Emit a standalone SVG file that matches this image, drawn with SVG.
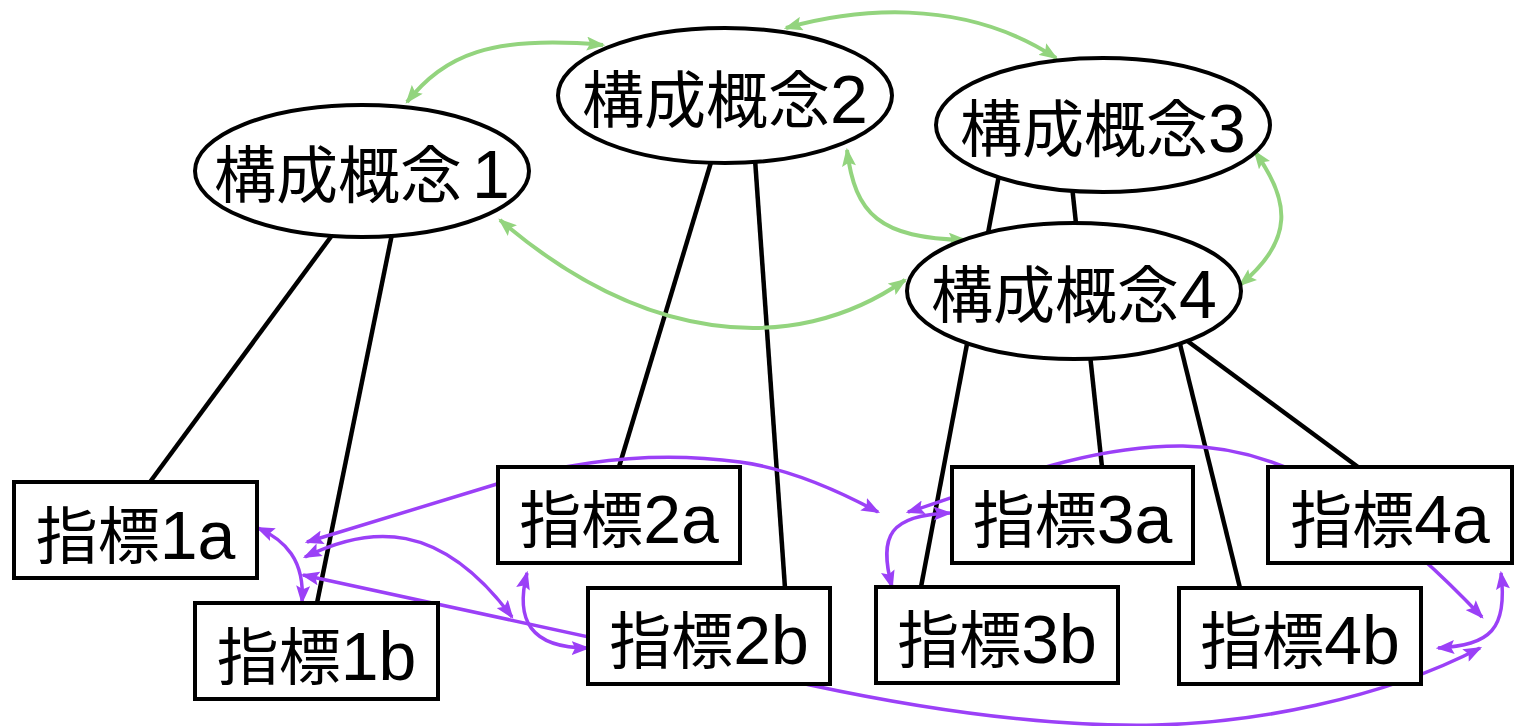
<svg xmlns="http://www.w3.org/2000/svg" width="1516" height="726" viewBox="0 0 1516 726">
<style>
.bg{fill:#ffffff}
.node{fill:#ffffff;stroke:#000000;stroke-width:4}
.ln{stroke:#000000;stroke-width:4.5;fill:none}
.pu{stroke:#9b40f7;stroke-width:3.5;fill:none;marker-start:url(#ap);marker-end:url(#ap)}
.gr{stroke:#93d47e;stroke-width:4;fill:none;marker-start:url(#ag);marker-end:url(#ag)}
.lbl{font-family:"Liberation Sans","Noto Sans CJK JP",sans-serif;font-size:68px;fill:#000000;text-anchor:middle}
.cj{font-family:"Noto Sans CJK JP",sans-serif;font-size:62px}
</style>
<defs>
<marker id="ap" viewBox="0 0 16 12" refX="14" refY="6" markerWidth="19" markerHeight="14" markerUnits="userSpaceOnUse" orient="auto-start-reverse">
<path d="M0,0 L16,6 L0,12 L3,6 z" fill="#9b40f7"/>
</marker>
<marker id="ag" viewBox="0 0 16 12" refX="14" refY="6" markerWidth="19" markerHeight="14" markerUnits="userSpaceOnUse" orient="auto-start-reverse">
<path d="M0,0 L16,6 L0,12 L3,6 z" fill="#93d47e"/>
</marker>
</defs>
<rect class="bg" x="0" y="0" width="1516" height="726"/>
<g id="connectors">
<path class="ln" d="M333,234 L150,482"/>
<path class="ln" d="M392,234 L317,603"/>
<path class="ln" d="M712,159 L619,467"/>
<path class="ln" d="M755,159 L785,588"/>
<path class="ln" d="M999,175 L921,587"/>
<path class="ln" d="M1072,186 L1102,467"/>
<path class="ln" d="M1179,340 L1240,588"/>
<path class="ln" d="M1186,340 L1358,467"/>
<path class="pu" d="M307,542 L497,484 Q620,446 740,462 Q800,470 878,512"/>
<path class="pu" d="M908,512 C980,490 1080,445 1183,446 C1290,447 1380,510 1482,617"/>
<path class="pu" d="M950,513 C890,515 878,535 892,587"/>
<path class="pu" d="M1501,573 C1508,630 1490,645 1438,648"/>
<path class="pu" d="M303,575 L810,685 C950,715 1060,727 1156,725 C1250,723 1380,700 1480,648"/>
<path class="pu" d="M258,528 C285,540 305,560 302,602"/>
<path class="pu" d="M305,557 C370,525 440,520 512,617"/>
<path class="pu" d="M527,573 C515,620 530,648 588,648"/>
<path class="gr" d="M407,102 C445,55 490,35 603,45"/>
<path class="gr" d="M786,28 C850,10 960,-5 1056,58"/>
<path class="gr" d="M847,150 C855,215 880,238 965,240"/>
<path class="gr" d="M500,220 C640,340 790,360 905,280"/>
<path class="gr" d="M1255,152 C1290,200 1295,240 1240,285"/>
</g>
<g id="c1">
<ellipse class="node" cx="362" cy="171" rx="167" ry="66"/>
<text class="lbl" x="362" y="198"><tspan class="cj">構成概念</tspan><tspan dx="10">1</tspan></text>
</g>
<g id="c2">
<ellipse class="node" cx="725" cy="95.5" rx="167" ry="67.5"/>
<text class="lbl" x="725" y="123"><tspan class="cj">構成概念</tspan>2</text>
</g>
<g id="c3">
<ellipse class="node" cx="1103" cy="125" rx="167" ry="67"/>
<text class="lbl" x="1103" y="152"><tspan class="cj">構成概念</tspan>3</text>
</g>
<g id="c4">
<ellipse class="node" cx="1074" cy="291" rx="167" ry="68"/>
<text class="lbl" x="1074" y="318"><tspan class="cj">構成概念</tspan>4</text>
</g>
<g id="i1a">
<rect class="node" x="14" y="482" width="243" height="96"/>
<text class="lbl" x="135.5" y="559"><tspan class="cj">指標</tspan>1a</text>
</g>
<g id="i1b">
<rect class="node" x="195" y="603" width="243" height="96"/>
<text class="lbl" x="316.5" y="680"><tspan class="cj">指標</tspan>1b</text>
</g>
<g id="i2a">
<rect class="node" x="498" y="467" width="242" height="96"/>
<text class="lbl" x="619" y="543"><tspan class="cj">指標</tspan>2a</text>
</g>
<g id="i2b">
<rect class="node" x="588" y="588" width="242" height="96"/>
<text class="lbl" x="709" y="664"><tspan class="cj">指標</tspan>2b</text>
</g>
<g id="i3a">
<rect class="node" x="952" y="467" width="241" height="96"/>
<text class="lbl" x="1072.5" y="543"><tspan class="cj">指標</tspan>3a</text>
</g>
<g id="i3b">
<rect class="node" x="876" y="587" width="242" height="96"/>
<text class="lbl" x="997" y="663"><tspan class="cj">指標</tspan>3b</text>
</g>
<g id="i4a">
<rect class="node" x="1268" y="467" width="244" height="96"/>
<text class="lbl" x="1390" y="543"><tspan class="cj">指標</tspan>4a</text>
</g>
<g id="i4b">
<rect class="node" x="1179" y="588" width="242" height="96"/>
<text class="lbl" x="1300" y="664"><tspan class="cj">指標</tspan>4b</text>
</g>
</svg>
